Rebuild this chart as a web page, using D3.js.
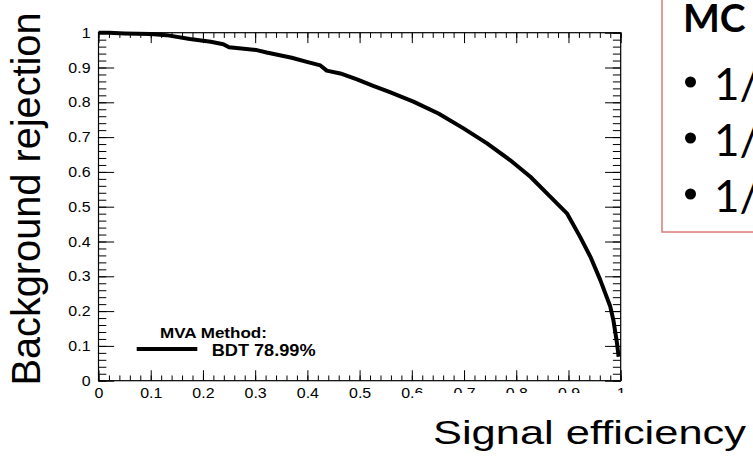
<!DOCTYPE html>
<html><head><meta charset="utf-8">
<script src="https://cdn.jsdelivr.net/npm/d3@7"></script>
<style>body{margin:0;background:#fff} svg{display:block}</style>
</head><body>
<script>
// ---- data ----
const signalEff = [0, 0.02, 0.05, 0.10, 0.13, 0.175, 0.215, 0.239, 0.25, 0.303, 0.322, 0.37, 0.399, 0.425, 0.437, 0.463, 0.495, 0.526, 0.558, 0.603, 0.651, 0.699, 0.744, 0.788, 0.827, 0.865, 0.897, 0.922, 0.942, 0.961, 0.980, 0.986, 0.993, 0.996];
const bkgRej    = [1, 1, 0.998, 0.996, 0.993, 0.982, 0.974, 0.967, 0.958, 0.950, 0.943, 0.928, 0.916, 0.906, 0.891, 0.883, 0.866, 0.847, 0.829, 0.802, 0.768, 0.725, 0.682, 0.634, 0.586, 0.529, 0.481, 0.414, 0.356, 0.289, 0.213, 0.174, 0.107, 0.069];
const xTickLabels = ["0","0.1","0.2","0.3","0.4","0.5","0.6","0.7","0.8","0.9","1"];
const yTickLabels = ["0","0.1","0.2","0.3","0.4","0.5","0.6","0.7","0.8","0.9","1"];
const xTitle = "Signal efficiency";
const yTitle = "Background rejection";
const legendTitle = "MVA Method:";
const legendEntry = "BDT 78.99%";
const boxTitle = "MC";
const boxBullets = ["1/", "1/", "1/"];

// ---- layout ----
const W = 753, H = 457;
const L = 98.5, R = 620.7, T = 32.7, B = 380.7;
const SX = 1.1; // horizontal stretch of the ROOT text
const rootFont = "'Liberation Sans', Arial, Helvetica, sans-serif";

const svg = d3.select("body").append("svg").attr("width", W).attr("height", H)
  .style("font-family", rootFont);
svg.append("rect").attr("width", W).attr("height", H).attr("fill", "#fff");

const x = d3.scaleLinear().domain([0, 1]).range([L, R]);
const y = d3.scaleLinear().domain([0, 1]).range([B, T]);

const majorX = xTickLabels.map(Number);
const majorY = yTickLabels.map(Number);
const minor = d3.range(0, 51).map(i => i / 50);

const xTickLen = (B - T) * 0.03, yTickLen = (R - L) * 0.03;

function styleAxis(g) {
  g.select(".domain").remove();
  g.selectAll("line").attr("stroke", "#000").attr("stroke-width", 1);
}

// bottom axis
const gB = svg.append("g").attr("transform", `translate(0,${B})`)
  .call(d3.axisBottom(x).tickValues(majorX).tickFormat((d, i) => xTickLabels[i])
    .tickSizeInner(-xTickLen).tickSizeOuter(0).tickPadding(7));
styleAxis(gB);
gB.selectAll("text").attr("font-size", 14.5).attr("fill", "#000").attr("font-family", rootFont)
  .attr("transform", `scale(${SX},1)`);
svg.append("g").attr("transform", `translate(0,${B})`)
  .call(d3.axisBottom(x).tickValues(minor).tickFormat("").tickSizeInner(-xTickLen / 2).tickSizeOuter(0))
  .call(styleAxis);
// top axis
svg.append("g").attr("transform", `translate(0,${T})`)
  .call(d3.axisTop(x).tickValues(majorX).tickFormat("").tickSizeInner(-xTickLen).tickSizeOuter(0))
  .call(styleAxis);
svg.append("g").attr("transform", `translate(0,${T})`)
  .call(d3.axisTop(x).tickValues(minor).tickFormat("").tickSizeInner(-xTickLen / 2).tickSizeOuter(0))
  .call(styleAxis);
// left axis
const gL = svg.append("g").attr("transform", `translate(${L},0)`)
  .call(d3.axisLeft(y).tickValues(majorY).tickFormat((d, i) => yTickLabels[i])
    .tickSizeInner(-yTickLen).tickSizeOuter(0).tickPadding(8));
styleAxis(gL);
gL.selectAll("text").attr("font-size", 14.5).attr("fill", "#000").attr("font-family", rootFont)
  .attr("x", -8 / SX).attr("transform", `scale(${SX},1)`);
svg.append("g").attr("transform", `translate(${L},0)`)
  .call(d3.axisLeft(y).tickValues(minor).tickFormat("").tickSizeInner(-yTickLen / 2).tickSizeOuter(0))
  .call(styleAxis);
// right axis
svg.append("g").attr("transform", `translate(${R},0)`)
  .call(d3.axisRight(y).tickValues(majorY).tickFormat("").tickSizeInner(-yTickLen).tickSizeOuter(0))
  .call(styleAxis);
svg.append("g").attr("transform", `translate(${R},0)`)
  .call(d3.axisRight(y).tickValues(minor).tickFormat("").tickSizeInner(-yTickLen / 2).tickSizeOuter(0))
  .call(styleAxis);

// frame
svg.append("rect").attr("x", L).attr("y", T).attr("width", R - L).attr("height", B - T)
  .attr("fill", "none").attr("stroke", "#000").attr("stroke-width", 1.2);

// ROC curve
const pts = signalEff.map((d, i) => [d, bkgRej[i]]);
svg.append("path").datum(pts)
  .attr("d", d3.line().x(d => x(d[0])).y(d => y(d[1])))
  .attr("fill", "none").attr("stroke", "#000").attr("stroke-width", 4)
  .attr("stroke-linejoin", "round");

// legend
svg.append("text").attr("transform", `translate(160,338) scale(${SX},1)`)
  .attr("font-size", 15.5).attr("font-weight", "bold").text(legendTitle);
svg.append("line").attr("x1", 136.7).attr("x2", 197.3).attr("y1", 349).attr("y2", 349)
  .attr("stroke", "#000").attr("stroke-width", 4);
svg.append("text").attr("transform", `translate(211.7,356) scale(${SX},1)`)
  .attr("font-size", 16.5).attr("font-weight", "bold").text(legendEntry);

// x title with white box that covers the tick labels
svg.append("rect").attr("x", 414).attr("y", 393).attr("width", W - 414).attr("height", H - 393)
  .attr("fill", "#fff");
svg.append("text").attr("x", 433).attr("y", 444).attr("font-size", 33)
  .attr("textLength", 313).attr("lengthAdjust", "spacingAndGlyphs").text(xTitle);

// y title
svg.append("text").attr("transform", "translate(39.5,199) rotate(-90)")
  .attr("text-anchor", "middle").attr("font-size", 40)
  .attr("textLength", 373).attr("lengthAdjust", "spacingAndGlyphs").text(yTitle);

// MC box
const boxFont = "Lato, 'Open Sans', sans-serif";
svg.append("rect").attr("x", 662).attr("y", -10).attr("width", 120).attr("height", 242)
  .attr("fill", "#fff").attr("stroke", "#d97b7b").attr("stroke-width", 1.5);
svg.append("text").attr("x", 683).attr("y", 31.5).attr("font-family", boxFont)
  .attr("font-size", 39).attr("font-weight", "bold").text(boxTitle);
const bulletY = [100, 156, 212];
boxBullets.forEach((t, i) => {
  svg.append("circle").attr("cx", 690.5).attr("cy", bulletY[i] - 18).attr("r", 5.5).attr("fill", "#000");
  svg.append("text").attr("x", 714).attr("y", bulletY[i]).attr("font-family", boxFont)
    .attr("font-size", 44).text(t);
});
</script>
</body></html>
